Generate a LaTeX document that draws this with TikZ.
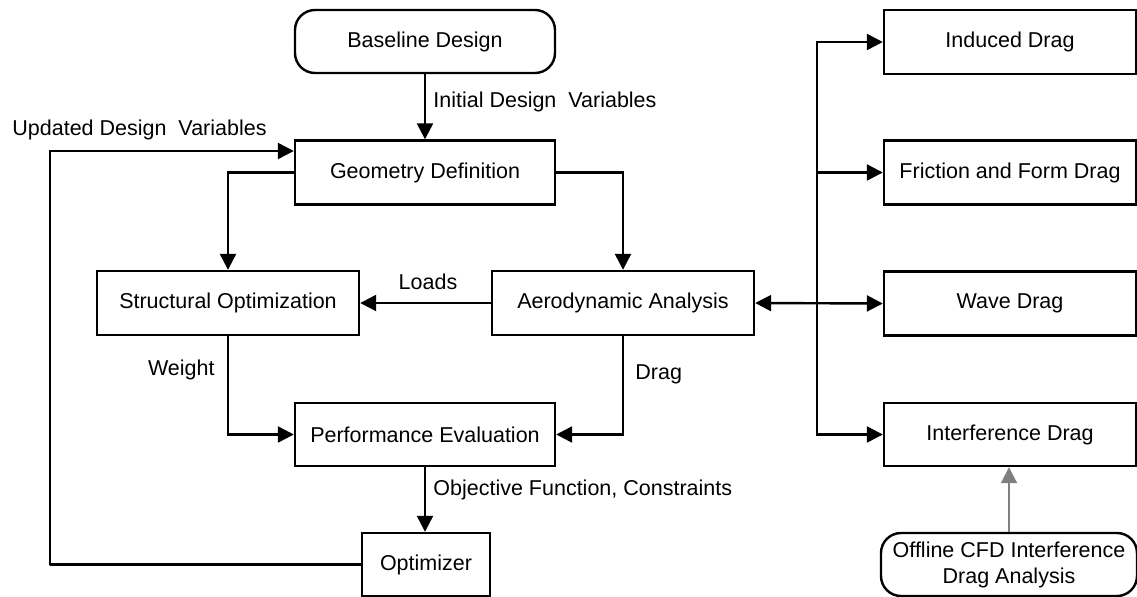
\documentclass[tikz,border=0pt]{standalone}
\usepackage{fontspec}
\setmainfont{Liberation Sans}
\usetikzlibrary{arrows.meta,positioning}
\definecolor{arrowgray}{RGB}{128,128,128}
\tikzset{
    box/.style={draw, line width=1.2pt, inner sep=0pt, minimum width=130pt, minimum height=32pt, align=center, font=\fontsize{10.75}{13}\selectfont},
    roundbox/.style={box, rounded corners=10pt},
    lbl/.style={inner sep=0pt, font=\fontsize{10.75}{13}\selectfont},
    flow/.style={line width=1.2pt, -{Triangle[length=8pt,width=8pt]}},
}
\begin{document}
\begin{tikzpicture}[x=0.5pt, y=-0.5pt]
    \useasboundingbox (0,0) rectangle (1137,596);
    % main loop
    \node[roundbox, minimum height=31.5pt] (base) at (425,41.5) {Baseline Design};
    \node[box] (geo) at (425,172.5) {Geometry Definition};
    \node[box, minimum width=131pt] (struct) at (228,303) {Structural Optimization};
    \node[box, minimum width=131pt] (aero) at (623,303) {Aerodynamic Analysis};
    \node[box, minimum height=31.5pt] (perf) at (425,434.5) {Performance Evaluation};
    \node[box, minimum width=64pt, minimum height=31.5pt] (opt) at (426,564.5) {Optimizer};
    % drag components
    \node[box, minimum width=126pt] (induced) at (1010,42) {Induced Drag};
    \node[box, minimum width=126pt] (friction) at (1010,172.5) {Friction and Form Drag};
    \node[box, minimum width=126pt] (wave) at (1010,303.5) {Wave Drag};
    \node[box, minimum width=126pt, minimum height=31.5pt] (interf) at (1010,434.5) {Interference Drag};
    \node[roundbox, minimum width=128pt, minimum height=31.5pt] (cfd) at (1009,564.5) {Offline CFD Interference\\Drag Analysis};
    \coordinate (loop) at (50,565);
    \coordinate (bus) at (817,303);
    % connectors
    \draw[flow] (base) -- (geo);
    \draw[flow] (geo.west) -| (struct.north);
    \draw[flow] (geo.east) -| (aero.north);
    \draw[flow] (aero.west) -- (struct.east);
    \draw[flow] (struct.south) |- (perf.west);
    \draw[flow] (aero.south) |- (perf.east);
    \draw[flow] (perf.south) -- (perf.south |- opt.north);
    \draw[flow] (opt.west) -| (loop) |- ([yshift=10.75pt]geo.west);
    \draw[flow] (bus |- induced.west) |- (interf.west);
    \draw[flow] (bus |- interf.west) |- (induced.west);
    \draw[flow] (bus |- friction.west) -- (friction.west);
    \draw[flow, {Triangle[length=8pt,width=8pt]}-{Triangle[length=8pt,width=8pt]}] (aero.east) -- (wave.west);
    \draw[flow, arrowgray, line width=1pt] (cfd.north) -- (cfd.north |- interf.south);
    % labels
    \node[lbl, anchor=west] (initlbl) at (433,102) {Initial Design~~Variables};
    \node[lbl, anchor=west] (updlbl) at (12,130) {Updated Design~~Variables};
    \node[lbl] (loadslbl) at (428,282) {Loads};
    \node[lbl, anchor=east] (weightlbl) at (215,370) {Weight};
    \node[lbl, anchor=west] (draglbl) at (635,374) {Drag};
    \node[lbl, anchor=west] (objlbl) at (433,490) {Objective Function, Constraints};
\end{tikzpicture}
\end{document}
